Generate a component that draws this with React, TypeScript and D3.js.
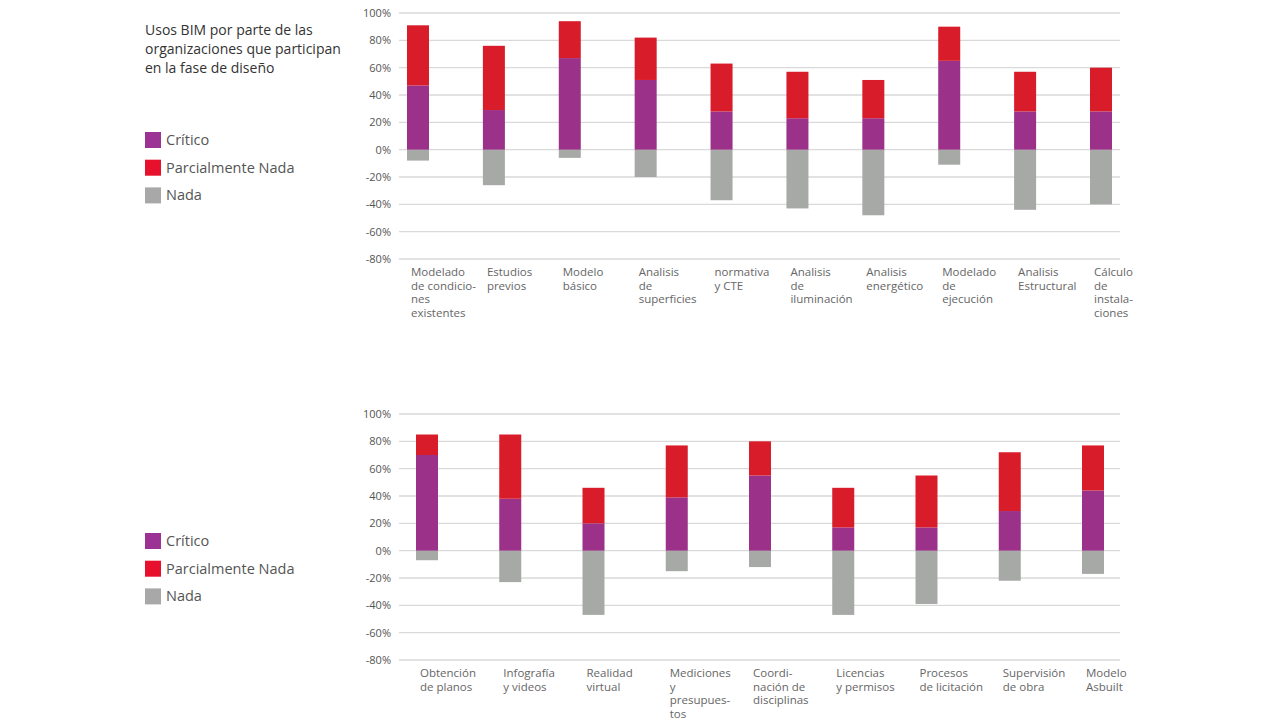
import * as d3 from "d3";

// Top chart: design phase
const topCategories: string[][] = [
  ["Modelado", "de condicio-", "nes", "existentes"],
  ["Estudios", "previos"],
  ["Modelo", "básico"],
  ["Analisis", "de", "superficies"],
  ["normativa", "y CTE"],
  ["Analisis", "de", "iluminación"],
  ["Analisis", "energético"],
  ["Modelado", "de", "ejecución"],
  ["Analisis", "Estructural"],
  ["Cálculo", "de", "instala-", "ciones"],
];
const topCritico = [47, 29, 67, 51, 28, 23, 23, 65, 28, 28];
const topParcial = [44, 47, 27, 31, 35, 34, 28, 25, 29, 32];
const topNada = [-8, -26, -6, -20, -37, -43, -48, -11, -44, -40];

// Bottom chart
const bottomCategories: string[][] = [
  ["Obtención", "de planos"],
  ["Infografía", "y videos"],
  ["Realidad", "virtual"],
  ["Mediciones", "y", "presupues-", "tos"],
  ["Coordi-", "nación de", "disciplinas"],
  ["Licencias", "y permisos"],
  ["Procesos", "de licitación"],
  ["Supervisión", "de obra"],
  ["Modelo", "Asbuilt"],
];
const bottomCritico = [70, 38, 20, 39, 55, 17, 17, 29, 44];
const bottomParcial = [15, 47, 26, 38, 25, 29, 38, 43, 33];
const bottomNada = [-7, -23, -47, -15, -12, -47, -39, -22, -17];

const yTicks = [100, 80, 60, 40, 20, 0, -20, -40, -60, -80];
const legendItems = ["Crítico", "Parcialmente Nada", "Nada"];

const PURPLE = "#9b3189";
const RED = "#d91c29";
const GRAY = "#a7a9a7";
const LEGEND_COLORS = ["#9c3293", "#e8112d", "#a8a8a8"];
const FONT = "'Open Sans', 'Noto Sans', sans-serif";

interface PanelProps {
  top: number;
  bottom: number;
  firstCenter: number;
  lastCenter: number;
  categories: string[][];
  critico: number[];
  parcial: number[];
  nada: number[];
}

function Panel({ top, bottom, firstCenter, lastCenter, categories, critico, parcial, nada }: PanelProps) {
  const y = d3.scaleLinear().domain([100, -80]).range([top, bottom]);
  const x = d3
    .scalePoint<number>()
    .domain(categories.map((_, i) => i))
    .range([firstCenter, lastCenter]);
  const barW = 22;
  const gridX0 = 399;
  const gridX1 = 1120;

  return (
    <g>
      {yTicks.map((t) => (
        <g key={t}>
          <line x1={gridX0} x2={gridX1} y1={y(t)} y2={y(t)} stroke="#d9d9d9" strokeWidth={1.3} />
          <text
            x={391}
            y={y(t) + 4}
            textAnchor="end"
            fontSize={11}
            fill="#555"
            fontFamily={FONT}
          >
            {t}%
          </text>
        </g>
      ))}
      {categories.map((lines, i) => {
        const cx = x(i)!;
        const c = critico[i];
        const p = parcial[i];
        const n = nada[i];
        return (
          <g key={i}>
            <rect x={cx - barW / 2} y={y(0)} width={barW} height={y(n) - y(0)} fill={GRAY} />
            <rect x={cx - barW / 2} y={y(c)} width={barW} height={y(0) - y(c)} fill={PURPLE} />
            <rect x={cx - barW / 2} y={y(c + p)} width={barW} height={y(c) - y(c + p)} fill={RED} />
            <text fontSize={11.5} fill="#666" fontFamily={FONT}>
              {lines.map((l, j) => (
                <tspan key={j} x={cx - 7} y={bottom + 17 + j * 13.7}>
                  {l}
                </tspan>
              ))}
            </text>
          </g>
        );
      })}
    </g>
  );
}

function Legend({ top }: { top: number }) {
  return (
    <g>
      {legendItems.map((name, i) => (
        <g key={name}>
          <rect x={145} y={top + i * 27.7} width={16} height={16} fill={LEGEND_COLORS[i]} />
          <text x={166} y={top + i * 27.7 + 13} fontSize={14.5} fill="#555" fontFamily={FONT}>
            {name}
          </text>
        </g>
      ))}
    </g>
  );
}

export default function App() {
  return (
    <div style={{ position: "absolute", left: 0, top: 0, width: 1280, height: 720, background: "#fff" }}>
      <svg width={1280} height={720} viewBox="0 0 1280 720">
        <rect width={1280} height={720} fill="#fff" />
        <text fontSize={14} fill="#333" fontFamily={FONT}>
          <tspan x={145} y={35}>Usos BIM por parte de las</tspan>
          <tspan x={145} y={54}>organizaciones que participan</tspan>
          <tspan x={145} y={73}>en la fase de diseño</tspan>
        </text>
        <Legend top={132} />
        <Legend top={533} />
        <Panel
          top={13}
          bottom={259}
          firstCenter={418}
          lastCenter={1101}
          categories={topCategories}
          critico={topCritico}
          parcial={topParcial}
          nada={topNada}
        />
        <Panel
          top={414}
          bottom={660}
          firstCenter={427}
          lastCenter={1093}
          categories={bottomCategories}
          critico={bottomCritico}
          parcial={bottomParcial}
          nada={bottomNada}
        />
      </svg>
    </div>
  );
}
